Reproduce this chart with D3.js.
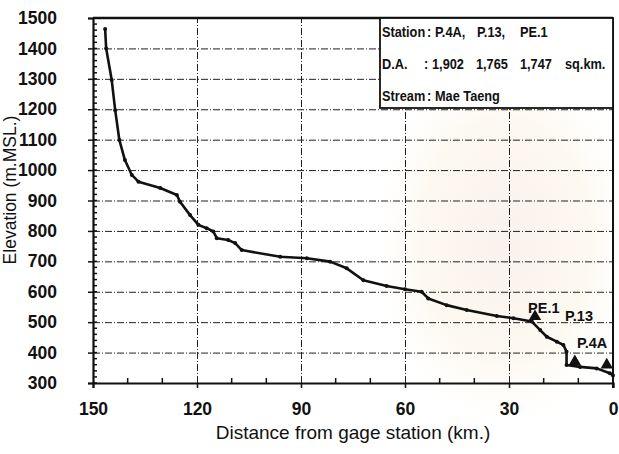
<!DOCTYPE html>
<html>
<head>
<meta charset="utf-8">
<script src="https://cdn.jsdelivr.net/npm/d3@7"></script>
<style>
  html, body { margin: 0; padding: 0; background: #fff; }
  svg { display: block; }
  text { font-family: "Liberation Sans", Arial, sans-serif; fill: #111; }
</style>
</head>
<body>
<svg id="chart" width="619" height="454"></svg>
<script>
// River bed profile of Mae Taeng: distance upstream of the gage (km) vs elevation (m MSL)
const distKm = [146.5, 146.2, 144.6, 143.6, 142.4, 140.8, 138.8, 136.9, 130.6, 125.8, 124.9,
  122, 119.6, 117.2, 115.3, 114.3, 111, 109, 107.1, 96, 88.3, 81.6, 76.8, 72, 65.3, 60,
  55.2, 53.3, 48, 42.2, 33.5, 28.7, 23.4, 21, 19.1, 16.2, 14.3, 13.4, 13.4, 9.5, 4.7, 0.9, 0];
const elevM = [1464, 1400, 1296, 1197, 1099, 1033, 984, 962, 941, 918, 896,
  852, 820, 809, 798, 776, 770, 760, 737, 715, 710, 699, 677, 638, 619, 608,
  600, 578, 556, 540, 520, 513, 502, 474, 452, 436, 425, 403, 359, 353, 348, 332, 325];

// Gage stations on the profile
const stationNames = ["PE.1", "P.13", "P.4A"];
const stationKm = [22.5, 11, 1.8];
const stationElev = [502, 354, 343];
// where each station's name is written (data units)
const labelKm = [24.5, 13.85, 10.4];
const labelElev = [530, 503, 415];

// Axis ticks
const xTicks = [150, 120, 90, 60, 30, 0];
const yTicks = [300, 400, 500, 600, 700, 800, 900, 1000, 1100, 1200, 1300, 1400, 1500];

// Info box text
const infoKeys = ["Station", "D.A.", "Stream"];
const infoValues = [["P.4A,", "P.13,", "PE.1"], ["1,902", "1,765", "1,747", "sq.km."], ["Mae Taeng"]];

const svg = d3.select("#chart");
const W = 619, H = 454;
const m = { left: 93, right: 6, top: 18, bottom: 71 };
const x = d3.scaleLinear().domain([150, 0]).range([m.left, W - m.right]);
const y = d3.scaleLinear().domain([300, 1500]).range([H - m.bottom, m.top]);

// faint seal in the background
const defs = svg.append("defs");
const rg = defs.append("radialGradient").attr("id", "seal");
rg.append("stop").attr("offset", "0%").attr("stop-color", "#fbf1ee").attr("stop-opacity", 1);
rg.append("stop").attr("offset", "60%").attr("stop-color", "#fcf7ec").attr("stop-opacity", 0.8);
rg.append("stop").attr("offset", "100%").attr("stop-color", "#ffffff").attr("stop-opacity", 0);
svg.append("ellipse").attr("cx", 505).attr("cy", 240).attr("rx", 140).attr("ry", 200)
  .attr("fill", "url(#seal)");

// grid
const grid = svg.append("g").attr("stroke", "#222").attr("stroke-width", 1)
  .attr("stroke-dasharray", "7,2,1,2");
grid.selectAll("line.h").data(yTicks.filter(d => d > 300 && d < 1500)).join("line")
  .attr("class", "h")
  .attr("x1", x(150)).attr("x2", x(0))
  .attr("y1", d => y(d) + 0.5).attr("y2", d => y(d) + 0.5);
grid.selectAll("line.v").data(xTicks.filter(d => d > 0 && d < 150)).join("line")
  .attr("class", "v")
  .attr("y1", y(300)).attr("y2", y(1500))
  .attr("x1", d => x(d) + 0.5).attr("x2", d => x(d) + 0.5);

// minor ticks
const minorY = d3.range(300, 1501, 20);
svg.append("g").attr("stroke", "#111").attr("stroke-width", 1.5)
  .selectAll("line").data(minorY).join("line")
  .attr("x1", x(150)).attr("x2", x(150) + 4)
  .attr("y1", d => y(d)).attr("y2", d => y(d));
const minorX = d3.range(0, 151, 10).filter(d => d % 30 !== 0);
svg.append("g").attr("stroke", "#111").attr("stroke-width", 1.5)
  .selectAll("line").data(minorX).join("line")
  .attr("x1", d => x(d)).attr("x2", d => x(d))
  .attr("y1", y(300)).attr("y2", y(300) - 5);

// axes
const fmt = d3.format("d");
const xAxis = d3.axisBottom(x).tickValues(xTicks).tickFormat(fmt).tickSize(5).tickPadding(15);
const gx = svg.append("g").attr("transform", `translate(0,${y(300)})`).call(xAxis);
gx.select(".domain").attr("stroke-width", 2.2).attr("stroke", "#111");
gx.selectAll(".tick line").attr("stroke-width", 1.5).attr("stroke", "#111");
gx.selectAll(".tick text").attr("font-size", 17.5).attr("font-weight", "bold")
  .attr("font-family", "Liberation Sans, Arial, sans-serif").attr("fill", "#111");

const yAxis = d3.axisLeft(y).tickValues(yTicks).tickFormat(fmt).tickSize(5);
const gy = svg.append("g").attr("transform", `translate(${x(150)},0)`).call(yAxis);
gy.select(".domain").attr("stroke-width", 2.2).attr("stroke", "#111");
gy.selectAll(".tick line").attr("stroke-width", 1.5).attr("stroke", "#111");
gy.selectAll(".tick text").attr("font-size", 17.5).attr("font-weight", "bold")
  .attr("font-family", "Liberation Sans, Arial, sans-serif").attr("fill", "#111")
  .attr("x", -36);

// frame: top and right edges
svg.append("line").attr("x1", x(150)).attr("x2", x(0)).attr("y1", y(1500)).attr("y2", y(1500))
  .attr("stroke", "#111").attr("stroke-width", 2.4);
svg.append("line").attr("x1", x(0)).attr("x2", x(0)).attr("y1", y(1500)).attr("y2", y(300) + 5)
  .attr("stroke", "#111").attr("stroke-width", 2);

// profile line
const line = d3.line().x((d, i) => x(distKm[i])).y((d, i) => y(elevM[i]));
svg.append("path").datum(elevM).attr("d", line)
  .attr("fill", "none").attr("stroke", "#111").attr("stroke-width", 2.6)
  .attr("stroke-linejoin", "round");
svg.append("g").selectAll("circle").data(elevM).join("circle")
  .attr("cx", (d, i) => x(distKm[i])).attr("cy", d => y(d)).attr("r", 2)
  .attr("fill", "#111");

// stations
const tri = d3.symbol().type(d3.symbolTriangle).size(66);
svg.append("g").selectAll("path").data(stationNames).join("path")
  .attr("d", tri)
  .attr("transform", (d, i) => `translate(${x(stationKm[i])},${y(stationElev[i]) - 5})`)
  .attr("fill", "#111");
svg.append("g").selectAll("text").data(stationNames).join("text")
  .attr("x", (d, i) => x(labelKm[i])).attr("y", (d, i) => y(labelElev[i]))
  .attr("font-size", 14.5).attr("font-weight", "bold")
  .text(d => d);

// info box (text slightly condensed)
const bx = 380, by = y(1500), bw = x(0) - bx, bh = 90;
svg.append("rect").attr("x", bx).attr("y", by).attr("width", bw).attr("height", bh)
  .attr("fill", "#fff").attr("stroke", "#111").attr("stroke-width", 1.8);
const sx = 0.88;
const info = svg.append("g").attr("font-size", 14.5).attr("font-weight", "bold")
  .attr("transform", `translate(${bx},0) scale(${sx},1)`);
const rowY = [by + 19.5, by + 51.5, by + 83.5];
const colonX = [47, 44, 47];
const valueX = [[55, 97, 140], [52, 96, 140, 185], [55]];
infoKeys.forEach((k, i) => {
  info.append("text").attr("x", 2 / sx).attr("y", rowY[i]).text(k);
  info.append("text").attr("x", colonX[i] / sx).attr("y", rowY[i]).text(":");
  infoValues[i].forEach((v, j) => {
    info.append("text").attr("x", valueX[i][j] / sx).attr("y", rowY[i]).text(v);
  });
});

// axis titles
svg.append("text").attr("x", (x(150) + x(0)) / 2).attr("y", 439)
  .attr("text-anchor", "middle").attr("font-size", 19)
  .text("Distance from gage station (km.)");
svg.append("text").attr("transform", `translate(16,190) rotate(-90)`)
  .attr("text-anchor", "middle").attr("font-size", 17.5)
  .text("Elevation (m.MSL.)");
</script>
</body>
</html>
